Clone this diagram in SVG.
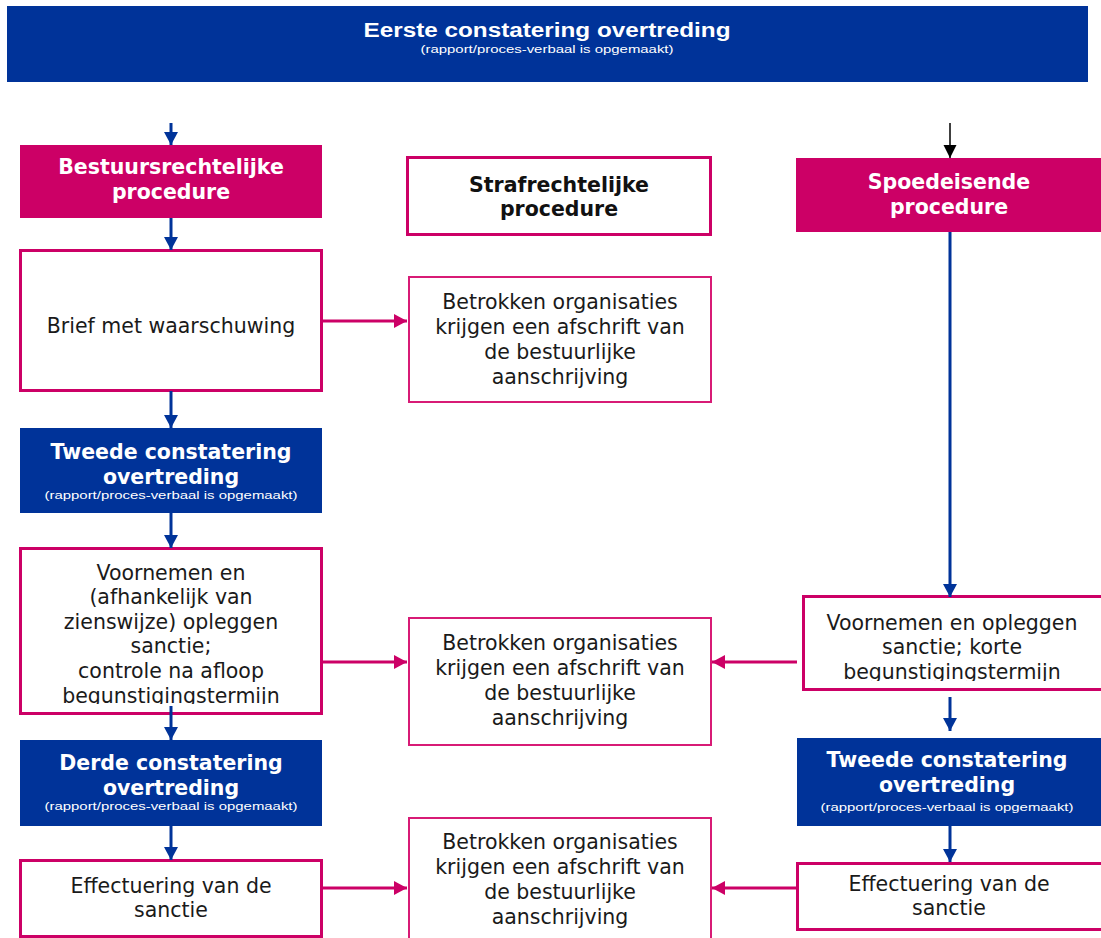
<svg xmlns="http://www.w3.org/2000/svg" width="1101" height="938" viewBox="0 0 1101 938">
<style>
.blue{fill:#003399}
.pinkf{fill:#CC0066}
.box{fill:#fff;stroke:#CC0066;stroke-width:3}
.box2{fill:#fff;stroke:#D81B76;stroke-width:2}
.t{font-family:"DejaVu Sans",Verdana,sans-serif;font-size:20.5px;fill:#1a1a1a;text-anchor:middle}
.b{font-family:"DejaVu Sans",Verdana,sans-serif;font-size:20.5px;font-weight:bold;text-anchor:middle}
.w{fill:#fff}
.k{fill:#111}
.s{font-family:"Liberation Sans",Arial,sans-serif;font-size:10px;fill:#fff;text-anchor:middle}
.ab{stroke:#003399;stroke-width:3;fill:none}
.ap{stroke:#CC0066;stroke-width:3;fill:none}
</style>
<defs>
<marker id="mb" markerWidth="16" markerHeight="16" refX="13" refY="8" orient="auto" markerUnits="userSpaceOnUse"><path d="M0,1 L13,8 L0,15 z" fill="#003399"/></marker>
<marker id="mk" markerWidth="16" markerHeight="16" refX="13" refY="8" orient="auto" markerUnits="userSpaceOnUse"><path d="M0,1.5 L13,8 L0,14.5 z" fill="#000"/></marker>
<marker id="mp" markerWidth="16" markerHeight="16" refX="13" refY="8" orient="auto" markerUnits="userSpaceOnUse"><path d="M0,1 L13,8 L0,15 z" fill="#CC0066"/></marker>
<clipPath id="c1"><rect x="20" y="548" width="302" height="156"/></clipPath>
<clipPath id="c2"><rect x="803" y="596" width="298" height="85"/></clipPath>
</defs>

<g id="header">
<rect class="blue" x="7" y="6" width="1081" height="76"/>
<text x="547" y="37" font-family="Liberation Sans, Arial, sans-serif" font-size="20" font-weight="bold" fill="#fff" text-anchor="middle" textLength="367" lengthAdjust="spacingAndGlyphs">Eerste constatering overtreding</text>
<text class="s" x="547" y="53" textLength="253" lengthAdjust="spacingAndGlyphs">(rapport/proces-verbaal is opgemaakt)</text>
</g>

<g id="bestuur">
<rect class="pinkf" x="20" y="145" width="302" height="73"/>
<text class="b w" x="171" y="174">Bestuursrechtelijke</text>
<text class="b w" x="171" y="199">procedure</text>
</g>

<g id="straf">
<rect class="box" x="407.5" y="157.5" width="303" height="77"/>
<text class="b k" x="559" y="192">Strafrechtelijke</text>
<text class="b k" x="559" y="216">procedure</text>
</g>

<g id="spoed">
<rect class="pinkf" x="796" y="158" width="305" height="74"/>
<text class="b w" x="949" y="189">Spoedeisende</text>
<text class="b w" x="949" y="214">procedure</text>
</g>

<g id="brief">
<rect class="box" x="20.5" y="250.5" width="301" height="140"/>
<text class="t" x="171" y="333">Brief met waarschuwing</text>
</g>

<g id="afschrift1">
<rect class="box2" x="409" y="277" width="302" height="125"/>
<text class="t" x="560" y="309">Betrokken organisaties</text>
<text class="t" x="560" y="334">krijgen een afschrift van</text>
<text class="t" x="560" y="359">de bestuurlijke</text>
<text class="t" x="560" y="384">aanschrijving</text>
</g>

<g id="tweede-links">
<rect class="blue" x="20" y="428" width="302" height="85"/>
<text class="b w" x="171" y="459">Tweede constatering</text>
<text class="b w" x="171" y="484">overtreding</text>
<text class="s" x="171" y="499" textLength="253" lengthAdjust="spacingAndGlyphs">(rapport/proces-verbaal is opgemaakt)</text>
</g>

<g id="voornemen-links">
<rect class="box" x="20.5" y="548.5" width="301" height="165"/>
<g clip-path="url(#c1)">
<text class="t" x="171" y="580">Voornemen en</text>
<text class="t" x="171" y="604">(afhankelijk van</text>
<text class="t" x="171" y="629">zienswijze) opleggen</text>
<text class="t" x="171" y="653">sanctie;</text>
<text class="t" x="171" y="678">controle na afloop</text>
<text class="t" x="171" y="703">begunstigingstermijn</text>
</g>
</g>

<g id="afschrift2">
<rect class="box2" x="409" y="618" width="302" height="127"/>
<text class="t" x="560" y="650">Betrokken organisaties</text>
<text class="t" x="560" y="675">krijgen een afschrift van</text>
<text class="t" x="560" y="700">de bestuurlijke</text>
<text class="t" x="560" y="725">aanschrijving</text>
</g>

<g id="voornemen-rechts">
<rect class="box" x="803.5" y="596.5" width="300" height="93"/>
<g clip-path="url(#c2)">
<text class="t" x="952" y="630">Voornemen en opleggen</text>
<text class="t" x="952" y="654">sanctie; korte</text>
<text class="t" x="952" y="679">begunstigingstermijn</text>
</g>
</g>

<g id="derde">
<rect class="blue" x="20" y="740" width="302" height="86"/>
<text class="b w" x="171" y="770">Derde constatering</text>
<text class="b w" x="171" y="795">overtreding</text>
<text class="s" x="171" y="810" textLength="253" lengthAdjust="spacingAndGlyphs">(rapport/proces-verbaal is opgemaakt)</text>
</g>

<g id="tweede-rechts">
<rect class="blue" x="797" y="738" width="304" height="88"/>
<text class="b w" x="947" y="767">Tweede constatering</text>
<text class="b w" x="947" y="792">overtreding</text>
<text class="s" x="947" y="811" textLength="253" lengthAdjust="spacingAndGlyphs">(rapport/proces-verbaal is opgemaakt)</text>
</g>

<g id="effect-links">
<rect class="box" x="20.5" y="860.5" width="301" height="76"/>
<text class="t" x="171" y="893">Effectuering van de</text>
<text class="t" x="171" y="917">sanctie</text>
</g>

<g id="afschrift3">
<rect class="box2" x="409" y="818" width="302" height="125"/>
<text class="t" x="560" y="849">Betrokken organisaties</text>
<text class="t" x="560" y="874">krijgen een afschrift van</text>
<text class="t" x="560" y="899">de bestuurlijke</text>
<text class="t" x="560" y="924">aanschrijving</text>
</g>

<g id="effect-rechts">
<rect class="box" x="797.5" y="863.5" width="305" height="66"/>
<text class="t" x="949" y="891">Effectuering van de</text>
<text class="t" x="949" y="915">sanctie</text>
</g>

<g id="connectors">
<line class="ab" x1="171" y1="123" x2="171" y2="145" marker-end="url(#mb)"/>
<line class="ab" x1="171" y1="218" x2="171" y2="250" marker-end="url(#mb)"/>
<line class="ab" x1="171" y1="391" x2="171" y2="428" marker-end="url(#mb)"/>
<line class="ab" x1="171" y1="513" x2="171" y2="548" marker-end="url(#mb)"/>
<line class="ab" x1="171" y1="706" x2="171" y2="740" marker-end="url(#mb)"/>
<line class="ab" x1="171" y1="826" x2="171" y2="860" marker-end="url(#mb)"/>
<line stroke="#000" stroke-width="1.5" x1="950" y1="123" x2="950" y2="158" marker-end="url(#mk)"/>
<line class="ab" x1="950" y1="232" x2="950" y2="597" marker-end="url(#mb)"/>
<line class="ab" x1="950" y1="697" x2="950" y2="731" marker-end="url(#mb)"/>
<line class="ab" x1="950" y1="826" x2="950" y2="862" marker-end="url(#mb)"/>
<line class="ap" x1="322" y1="321" x2="407" y2="321" marker-end="url(#mp)"/>
<line class="ap" x1="322" y1="662" x2="407" y2="662" marker-end="url(#mp)"/>
<line class="ap" x1="797" y1="662" x2="712" y2="662" marker-end="url(#mp)"/>
<line class="ap" x1="322" y1="888" x2="407" y2="888" marker-end="url(#mp)"/>
<line class="ap" x1="797" y1="888" x2="712" y2="888" marker-end="url(#mp)"/>
</g>
</svg>
